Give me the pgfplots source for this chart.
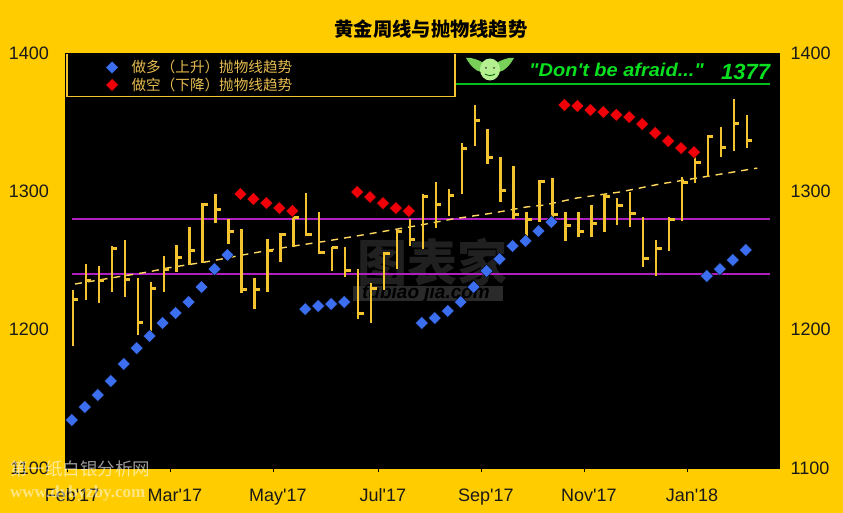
\documentclass[border=0pt]{standalone}
\usepackage{pgfplots}
\usepackage{pgfplotstable}
\usepackage{fontspec}
\pgfplotsset{compat=1.18}
\newfontfamily\lib{Liberation Sans}
\newfontfamily\cjk{Noto Sans CJK SC}
\newfontfamily\serifw{Liberation Serif}
\definecolor{bg}{HTML}{FFCC00}
\definecolor{barY}{HTML}{F4C430}
\definecolor{dashY}{HTML}{FFD860}
\definecolor{mag}{HTML}{B020C0}
\definecolor{blueD}{HTML}{3C6EF0}
\definecolor{redD}{HTML}{F00008}
\definecolor{leg}{HTML}{E6BC50}
\definecolor{grn}{HTML}{08E020}
\definecolor{wm}{HTML}{202020}
\definecolor{band}{HTML}{2A2A2A}
\definecolor{yoda}{HTML}{B4F090}
\definecolor{wing}{HTML}{78D058}
\pgfdeclareplotmark{closetick}{\pgfsetlinewidth{3pt}\pgfpathmoveto{\pgfpointorigin}\pgfpathlineto{\pgfqpoint{5.5pt}{0pt}}\pgfusepathqstroke}
\pgfplotstableread{
i high low close
0 1228.7 1188.2 1222.1
1 1247.4 1221.4 1235.2
2 1246.0 1219.2 1235.9
3 1260.5 1227.2 1259.0
4 1264.8 1223.6 1236.6
5 1237.3 1196.1 1205.5
6 1234.4 1197.6 1230.1
7 1253.2 1227.2 1243.8
8 1261.2 1241.7 1252.5
9 1274.2 1246.7 1256.9
10 1291.5 1248.2 1290.8
11 1298.1 1277.1 1287.2
12 1280.0 1261.9 1270.6
13 1272.8 1226.5 1228.7
14 1237.3 1214.9 1228.7
15 1265.5 1227.2 1256.9
16 1269.9 1248.9 1269.1
17 1282.2 1259.7 1281.4
18 1298.8 1267.7 1269.1
19 1285.0 1254.7 1256.1
20 1259.7 1242.4 1259.7
21 1259.7 1238.0 1243.1
22 1243.8 1207.7 1212.0
23 1233.7 1204.8 1229.4
24 1256.1 1228.7 1255.4
25 1272.0 1243.8 1271.3
26 1280.0 1260.5 1265.5
27 1298.1 1258.3 1295.9
28 1306.7 1273.5 1290.8
29 1301.6 1282.2 1297.3
30 1334.9 1298.1 1331.3
31 1362.4 1332.8 1351.5
32 1345.0 1319.7 1324.8
33 1324.8 1292.3 1300.9
34 1318.3 1280.0 1283.6
35 1285.0 1264.8 1279.3
36 1308.2 1277.8 1307.4
37 1309.6 1277.8 1283.6
38 1285.0 1264.1 1275.6
39 1285.0 1267.0 1270.6
40 1290.1 1267.0 1277.1
41 1298.1 1270.6 1295.9
42 1295.2 1275.6 1289.4
43 1299.5 1274.2 1284.3
44 1281.4 1245.3 1251.8
45 1264.8 1238.8 1259.0
46 1281.4 1256.9 1279.3
47 1310.3 1278.5 1306.7
48 1328.4 1306.0 1321.2
49 1340.7 1310.3 1339.3
50 1346.5 1324.8 1332.0
51 1366.7 1329.1 1348.7
52 1355.2 1331.3 1336.4
}\bars
\pgfplotstableread{
i v
0 1134.7
1 1144.1
2 1152.8
3 1162.9
4 1175.2
5 1186.7
6 1195.4
7 1204.8
8 1212.0
9 1220.0
10 1230.8
11 1243.8
12 1254.0
18 1214.9
19 1217.1
20 1218.5
21 1220.0
27 1204.8
28 1208.4
29 1213.5
30 1220.0
31 1230.8
32 1242.4
33 1251.1
34 1260.5
35 1264.1
36 1271.3
37 1277.8
49 1238.8
50 1243.8
51 1250.3
52 1257.6
}\blueT
\pgfplotstableread{
i v
13 1298.1
14 1294.4
15 1291.5
16 1287.9
17 1285.8
22 1299.5
23 1295.9
24 1291.5
25 1287.9
26 1285.8
38 1362.4
39 1361.7
40 1358.8
41 1357.3
42 1355.2
43 1353.7
44 1348.7
45 1342.2
46 1336.4
47 1331.3
48 1328.4
}\redT
\pgfplotstableread{
x v
0.15 1233.0
3.4 1238.1
5.8 1241.7
7.3 1244.6
10.65 1249.6
13.1 1254.0
16.5 1259.7
19.6 1264.1
23.7 1270.6
26.8 1275.6
29.3 1280.0
32.4 1284.3
35.0 1288.7
36.4 1290.1
38.9 1295.2
42.2 1299.5
45.3 1305.3
48.6 1310.3
52.8 1316.8
}\dashT
\begin{document}
\begin{tikzpicture}
\path[use as bounding box,fill=bg] (0,0) rectangle (843pt,513pt);
\begin{scope}[x=1pt,y=-1pt,yshift=513pt]
\fill[black] (65,53) rectangle (779,468);
% watermark
\node[text=wm,font=\cjk\bfseries\fontsize{50}{50}\selectfont,inner sep=0pt] at (432,262) {图表家};
\fill[band] (353,286) rectangle (503,301);
\node[text=black,font=\lib\bfseries\itshape\fontsize{19}{19}\selectfont,inner sep=0pt] at (426,293.5) {tubiao jia.com};
% legend box
\draw[barY,line width=1.3pt] (67,53) -- (67,96.5) -- (455,96.5) -- (455,53);
\draw[barY,line width=1.3pt] (65,96.5) -- (67,96.5);
\draw[gray,line width=0.8pt] (517,53.3) -- (779,53.3);
% green banner
\draw[grn!85!black,line width=1.4pt] (456,84) -- (770,84);
\fill[wing] (466,58) .. controls (472,57) and (478,60) .. (484,63) -- (481,72) .. controls (475,71) and (470,65) .. (466,58) -- cycle;
\fill[wing] (514,58) .. controls (508,57) and (502,60) .. (496,63) -- (499,72) .. controls (505,71) and (510,65) .. (514,58) -- cycle;
\fill[yoda] (490,69.5) ellipse (10 and 11);
\fill[black!75] (486,68) circle (1) (494,68) circle (1);
\draw[black!60!green,line width=0.8pt] (485,74) .. controls (488,76) and (492,76) .. (495,74);
\node[text=grn,font=\lib\bfseries\itshape\fontsize{18.5}{18.5}\selectfont,inner sep=0pt,anchor=west,xscale=1.08] at (529,70) {"Don't be afraid..."};
\node[text=grn,font=\lib\bfseries\itshape\fontsize{22}{22}\selectfont,inner sep=0pt,anchor=west] at (721,72) {1377};
% title
\node[text=black,font=\cjk\bfseries\fontsize{19.3}{19.3}\selectfont,inner sep=0pt] at (431,29) {黄金周线与抛物线趋势};
\end{scope}
\begin{axis}[
  at={(65pt,45pt)},anchor=south west,
  scale only axis,width=714pt,height=415pt,
  xmin=-0.617,xmax=54.48,ymin=1100,ymax=1400,
  axis line style={black,line width=0.6pt},
  xtick={-0.46,7.48,15.43,23.53,31.48,39.43,47.38},
  xticklabels={Feb'17,Mar'17,May'17,Jul'17,Sep'17,Nov'17,Jan'18},
  xtick pos=bottom,
  tick align=outside,
  x tick style={black,line width=0.8pt},
  major tick length=4.5pt,
  xticklabel style={font=\lib\fontsize{18}{18}\selectfont,text=black!90,xshift=5pt,yshift=-12pt,text height=13pt,text depth=4pt,/pgf/number format/assume math mode=true},
  ytick={1100,1200,1300,1400},
  y tick style={draw=none},
  ytick pos=left,
  yticklabel style={font=\lib\fontsize{18}{18}\selectfont,text=black!90,/pgf/number format/assume math mode=true,/pgf/number format/1000 sep={},xshift=-8pt},
  clip=false,
  legend style={at={(axis cs:2.5,1395.5)},anchor=north west,fill=none,draw=none,
    font=\cjk\fontsize{14.6}{14.6}\selectfont,text=leg,row sep=1.5pt,column sep=12pt,inner sep=0pt,
    nodes={inner sep=1pt}},
  legend cell align=left,
]
\addplot[forget plot,draw=mag,line width=2pt] coordinates {(-0.08,1280)(53.8,1280)};
\addplot[forget plot,draw=mag,line width=2pt] coordinates {(-0.08,1240)(53.8,1240)};
\addplot[forget plot,draw=dashY,line width=1.4pt,dash pattern=on 7pt off 6pt] table[x=x,y=v] {\dashT};
\addplot[forget plot,only marks,mark=closetick,mark options={draw=barY},
  error bars/.cd,y dir=both,y explicit,error mark=none,
  error bar style={draw=barY,line width=2.4pt}]
  table[x=i,y=close,y error plus expr=\thisrow{high}-\thisrow{close},y error minus expr=\thisrow{close}-\thisrow{low}] {\bars};
\addplot[only marks,mark=square*,mark size=4.6pt,mark options={rotate=45,draw=none,fill=blueD}] table[x expr=\thisrow{i}-0.08,y=v] {\blueT};
\addlegendentry{做多（上升）抛物线趋势}
\addplot[only marks,mark=square*,mark size=4.6pt,mark options={rotate=45,draw=none,fill=redD}] table[x expr=\thisrow{i}-0.08,y=v] {\redT};
\addlegendentry{做空（下降）抛物线趋势}
\end{axis}
\begin{axis}[
  at={(65pt,45pt)},anchor=south west,
  scale only axis,width=714pt,height=415pt,
  xmin=-0.617,xmax=54.48,ymin=1100,ymax=1400,
  axis x line=none,axis y line=right,
  y axis line style={draw=none},
  ytick={1100,1200,1300,1400},
  y tick style={draw=none},
  yticklabel style={font=\lib\fontsize{18}{18}\selectfont,text=black!90,/pgf/number format/assume math mode=true,/pgf/number format/1000 sep={},xshift=6pt},
]
\addplot[draw=none,forget plot] coordinates {(0,1100)(1,1400)};
\end{axis}
\begin{scope}[x=1pt,y=-1pt,yshift=513pt]
\node[text=white,opacity=0.6,font=\cjk\fontsize{17.5}{17.5}\selectfont,inner sep=0pt,anchor=west] at (10,469) {第一纸白银分析网};
\node[text=white,opacity=0.5,font=\serifw\bfseries\fontsize{17}{17}\selectfont,inner sep=0pt,anchor=west] at (10,493) {www.dybyzby.com};
\end{scope}
\end{tikzpicture}
\end{document}
